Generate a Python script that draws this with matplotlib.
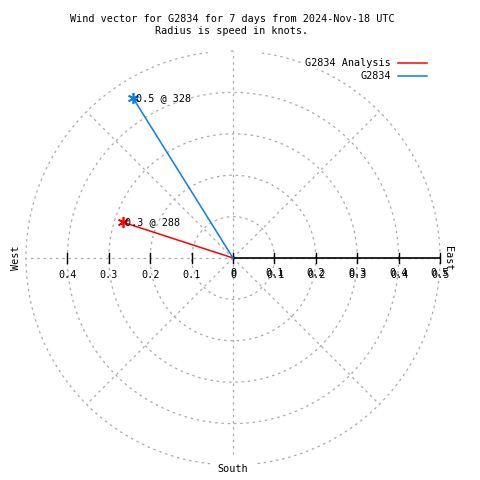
import numpy as np
import matplotlib
matplotlib.use("Agg")
import matplotlib.pyplot as plt
from matplotlib.patches import Rectangle

series_names = ["G2834 Analysis", "G2834"]
series_colors = ["#ff0000", "#0a7cf0"]
speeds = [0.28, 0.455]          # knots
directions = [288, 328]         # compass degrees
labels = ["0.3 @ 288", "0.5 @ 328"]
rings = [0.1, 0.2, 0.3, 0.4, 0.5]
east_ticks = [0, 0.1, 0.2, 0.3, 0.4, 0.5]
west_ticks = [0.1, 0.2, 0.3, 0.4]
title = "Wind vector for G2834 for 7 days from 2024-Nov-18 UTC\nRadius is speed in knots."

FONT = "DejaVu Sans Mono"
FS = 7.3
W = H = 480
cx, cy, scale = 233, 258, 414.0

fig = plt.figure(figsize=(4.8, 4.8), dpi=100)
ax = fig.add_axes([0, 0, 1, 1])
ax.set_xlim(-cx / scale, (W - cx) / scale)
ax.set_ylim(-(H - cy) / scale, cy / scale)
ax.set_aspect("equal")
ax.axis("off")

grid_kw = dict(color="#aaaaaa", lw=0.9, ls=(0, (2, 3)))
t = np.linspace(0, 2 * np.pi, 400)
for r in rings:
    ax.plot(r * np.cos(t), r * np.sin(t), **grid_kw)
rmax = max(rings)
for a in range(0, 360, 45):
    ar = np.radians(a)
    ax.plot([0, rmax * np.cos(ar)], [0, rmax * np.sin(ar)], **grid_kw)

# blank area where a north label would sit
ax.add_patch(Rectangle((-0.06, rmax - 0.02), 0.05, 0.04, color="white", zorder=2))
ax.add_patch(Rectangle((0.01, rmax - 0.02), 0.05, 0.04, color="white", zorder=2))

# east axis
ax.plot([0, 0.5], [0, 0], color="black", lw=1.2, zorder=3)
tk = 0.012
for v in east_ticks:
    ax.plot([v, v], [-tk, tk], color="black", lw=1, zorder=3)
    lab = "0" if v == 0 else f"{v:.1f}"
    ax.text(v, -0.024, lab, ha="center", va="top", fontsize=FS, family=FONT, zorder=4)
    ax.text(v + 0.002, -0.030, lab, ha="center", va="top", fontsize=FS, family=FONT, zorder=4)
for v in west_ticks:
    ax.plot([-v, -v], [-tk, tk], color="black", lw=1, zorder=3)
    ax.text(-v, -0.03, f"{v:.1f}", ha="center", va="top", fontsize=FS, family=FONT, zorder=4)

ax.text(-0.525, 0, "West", rotation=90, ha="center", va="center", fontsize=FS, family=FONT)
ax.text(0.52, 0, "East", rotation=270, ha="center", va="center", fontsize=FS, family=FONT, zorder=5)
ax.text(0, -0.51, "South", ha="center", va="center", fontsize=FS, family=FONT, zorder=5,
        bbox=dict(facecolor="white", edgecolor="none", pad=5))

for s, d, c, lab in zip(speeds, directions, series_colors, labels):
    th = np.radians(d)
    x, y = s * np.sin(th), s * np.cos(th)
    ax.plot([0, x], [0, y], color=c, lw=1.1, zorder=6)
    ax.plot([x], [y], marker=(6, 2, 0), color=c, ms=8, mew=1.2, zorder=6)
    ax.text(x + 0.006, y, lab, ha="left", va="center", fontsize=FS, family=FONT, zorder=6)

fig.text(232 / W, 1 - 14 / H, title, ha="center", va="top", fontsize=FS, family=FONT,
         linespacing=1.2)

for i, (n, c) in enumerate(zip(series_names, series_colors)):
    yy = 1 - (63 + 13 * i) / H
    fig.text(391 / W, yy, n, ha="right", va="center", fontsize=FS, family=FONT,
             bbox=dict(facecolor="white", edgecolor="none", pad=1))
    fig.add_artist(plt.Line2D([398 / W, 427 / W], [yy, yy], color=c, lw=1.1,
                              transform=fig.transFigure))

fig.savefig("out.png", dpi=100)
